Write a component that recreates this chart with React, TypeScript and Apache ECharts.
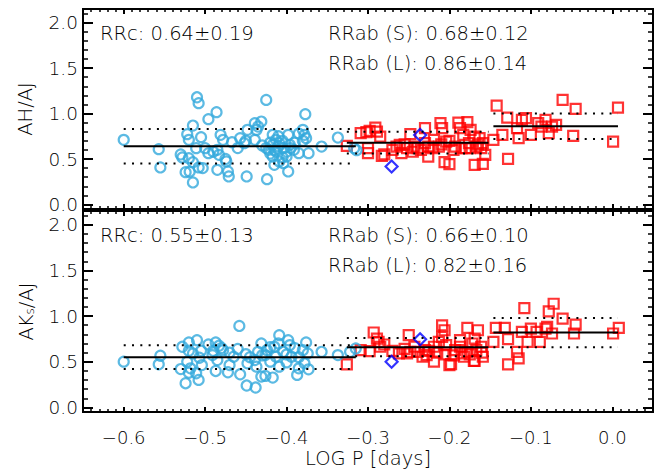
import React, { useEffect, useRef } from "react";
import * as echarts from "echarts";

// ---------- data ----------
const xMajorTicks = [-0.6, -0.5, -0.4, -0.3, -0.2, -0.1, 0.0];
const yMajorTicks = [0.0, 0.5, 1.0, 1.5, 2.0];

const groupNames = ["RRc", "RRab (S)", "RRab (L)"];
const groupSpans: [number, number][] = [
  [-0.6, -0.315],
  [-0.326, -0.152],
  [-0.146, 0.007],
];
const meanAH = [0.64, 0.68, 0.86];
const sigmaAH = [0.19, 0.12, 0.14];
const meanAKs = [0.55, 0.66, 0.82];
const sigmaAKs = [0.13, 0.1, 0.16];

const rrcAH: [number, number][] = [
  [-0.6, 0.711], [-0.557, 0.608], [-0.555, 0.407], [-0.51, 1.179], [-0.508, 1.114], [-0.486, 1.015],
  [-0.496, 0.938], [-0.515, 0.868], [-0.522, 0.773], [-0.52, 0.711], [-0.505, 0.74], [-0.511, 0.619],
  [-0.528, 0.517], [-0.52, 0.509], [-0.515, 0.465], [-0.524, 0.355], [-0.515, 0.242], [-0.508, 0.407],
  [-0.5, 0.619], [-0.496, 0.564], [-0.481, 0.766], [-0.478, 0.711], [-0.467, 0.685], [-0.483, 0.546],
  [-0.485, 0.601], [-0.474, 0.473], [-0.485, 0.381], [-0.472, 0.363], [-0.471, 0.308], [-0.457, 0.729],
  [-0.452, 0.674], [-0.448, 0.821], [-0.439, 0.894], [-0.431, 0.912], [-0.435, 0.857], [-0.425, 1.15],
  [-0.449, 0.308], [-0.424, 0.278], [-0.439, 0.711], [-0.417, 0.766], [-0.413, 0.711], [-0.417, 0.656],
  [-0.422, 0.601], [-0.413, 0.582], [-0.409, 0.674], [-0.404, 0.619], [-0.417, 0.527], [-0.409, 0.473],
  [-0.415, 0.436], [-0.4, 0.527], [-0.396, 0.656], [-0.398, 0.766], [-0.391, 0.601], [-0.385, 0.564],
  [-0.398, 0.363], [-0.38, 0.821], [-0.378, 0.766], [-0.376, 0.729], [-0.377, 0.993], [-0.373, 0.564],
  [-0.404, 0.454], [-0.357, 0.637], [-0.337, 0.736], [-0.317, 0.619], [-0.314, 0.597],
  [-0.425, 0.62], [-0.42, 0.68], [-0.415, 0.6], [-0.41, 0.64], [-0.405, 0.7], [-0.4, 0.58],
  [-0.395, 0.62], [-0.39, 0.68], [-0.42, 0.56], [-0.43, 0.65], [-0.41, 0.75], [-0.405, 0.52],
  [-0.385, 0.78], [-0.38, 0.7], [-0.45, 0.7], [-0.437, 0.82], [-0.475, 0.5], [-0.503, 0.4],
  [-0.519, 0.36], [-0.53, 0.55], [-0.49, 0.58], [-0.46, 0.62],
];

const rrabAH: [number, number][] = [
  [-0.326, 0.645], [-0.309, 0.784], [-0.302, 0.795], [-0.291, 0.846], [-0.289, 0.802], [-0.285, 0.747],
  [-0.3, 0.619], [-0.3, 0.564], [-0.283, 0.535], [-0.261, 0.656], [-0.259, 0.564], [-0.248, 0.773],
  [-0.23, 0.839], [-0.211, 0.894], [-0.209, 0.839], [-0.189, 0.901], [-0.178, 0.905], [-0.187, 0.839],
  [-0.174, 0.821], [-0.183, 0.766], [-0.169, 0.747], [-0.163, 0.729], [-0.159, 0.674], [-0.156, 0.546],
  [-0.169, 0.436], [-0.159, 0.447], [-0.206, 0.465], [-0.2, 0.443], [-0.226, 0.527], [-0.243, 0.637],
  [-0.239, 0.619], [-0.226, 0.637], [-0.213, 0.637], [-0.204, 0.692], [-0.193, 0.637], [-0.185, 0.619],
  [-0.167, 0.637], [-0.161, 0.619], [-0.252, 0.619], [-0.219, 0.711], [-0.146, 0.711], [-0.135, 0.766],
  [-0.128, 0.502], [-0.142, 1.088], [-0.129, 0.956], [-0.115, 0.729], [-0.117, 0.839], [-0.111, 0.93],
  [-0.106, 0.949], [-0.1, 0.766], [-0.091, 0.894], [-0.082, 0.93], [-0.078, 0.784], [-0.074, 0.857],
  [-0.061, 1.15], [-0.045, 1.051], [-0.048, 0.755], [0.007, 1.066], [0.001, 0.692], [-0.087, 0.857],
  [-0.069, 0.875], [-0.18, 0.619], [-0.176, 0.674], [-0.23, 0.674], [-0.265, 0.637],
  [-0.27, 0.6], [-0.255, 0.66], [-0.235, 0.6], [-0.22, 0.62], [-0.21, 0.66], [-0.195, 0.6],
  [-0.175, 0.62], [-0.165, 0.66], [-0.245, 0.58], [-0.2, 0.7], [-0.298, 0.81], [-0.28, 0.55],
];

const blazhkoAH: [number, number][] = [[-0.236, 0.765], [-0.271, 0.417]];

const rrcAKs: [number, number][] = [
  [-0.6, 0.501], [-0.555, 0.566], [-0.557, 0.472], [-0.528, 0.664], [-0.52, 0.711], [-0.51, 0.736],
  [-0.515, 0.591], [-0.522, 0.501], [-0.518, 0.428], [-0.524, 0.265], [-0.508, 0.301], [-0.511, 0.374],
  [-0.504, 0.464], [-0.507, 0.544], [-0.496, 0.689], [-0.487, 0.711], [-0.483, 0.675], [-0.478, 0.627],
  [-0.491, 0.573], [-0.485, 0.519], [-0.487, 0.399], [-0.472, 0.385], [-0.47, 0.464], [-0.465, 0.555],
  [-0.458, 0.892], [-0.457, 0.363], [-0.449, 0.24], [-0.438, 0.218], [-0.45, 0.584], [-0.448, 0.483],
  [-0.437, 0.446], [-0.431, 0.7], [-0.431, 0.338], [-0.417, 0.327], [-0.424, 0.627], [-0.415, 0.664],
  [-0.409, 0.791], [-0.398, 0.736], [-0.396, 0.682], [-0.404, 0.609], [-0.413, 0.555], [-0.42, 0.501],
  [-0.4, 0.493], [-0.409, 0.446], [-0.387, 0.356], [-0.385, 0.428], [-0.378, 0.483], [-0.376, 0.711],
  [-0.374, 0.591], [-0.38, 0.627], [-0.357, 0.609], [-0.337, 0.573], [-0.322, 0.609], [-0.315, 0.645],
  [-0.435, 0.609], [-0.426, 0.573], [-0.394, 0.555], [-0.439, 0.519],
  [-0.47, 0.6], [-0.46, 0.64], [-0.505, 0.62], [-0.52, 0.62], [-0.42, 0.66], [-0.41, 0.7],
  [-0.4, 0.58], [-0.39, 0.65], [-0.385, 0.55], [-0.43, 0.57], [-0.445, 0.55], [-0.53, 0.42],
  [-0.52, 0.38], [-0.426, 0.345], [-0.373, 0.417], [-0.48, 0.65], [-0.49, 0.62],
];

const rrabAKs: [number, number][] = [
  [-0.326, 0.472], [-0.309, 0.627], [-0.298, 0.617], [-0.293, 0.82], [-0.289, 0.754], [-0.287, 0.718],
  [-0.285, 0.664], [-0.28, 0.689], [-0.262, 0.591], [-0.25, 0.791], [-0.248, 0.609], [-0.243, 0.664],
  [-0.233, 0.555], [-0.228, 0.573], [-0.219, 0.501], [-0.209, 0.899], [-0.206, 0.845], [-0.209, 0.772],
  [-0.213, 0.718], [-0.204, 0.682], [-0.2, 0.464], [-0.182, 0.555], [-0.178, 0.87], [-0.165, 0.845],
  [-0.169, 0.754], [-0.172, 0.7], [-0.169, 0.508], [-0.159, 0.555], [-0.161, 0.664], [-0.146, 0.718],
  [-0.143, 0.87], [-0.132, 0.87], [-0.128, 0.747], [-0.128, 0.472], [-0.117, 0.609], [-0.115, 0.537],
  [-0.108, 1.088], [-0.111, 0.827], [-0.104, 0.718], [-0.1, 0.863], [-0.089, 0.718], [-0.093, 0.827],
  [-0.082, 0.863], [-0.08, 0.881], [-0.078, 1.051], [-0.072, 1.135], [-0.074, 0.809], [-0.061, 0.972],
  [-0.045, 0.906], [-0.047, 0.809], [0.001, 0.809], [0.008, 0.87], [-0.23, 0.627], [-0.219, 0.664],
  [-0.193, 0.627], [-0.187, 0.664], [-0.178, 0.609], [-0.187, 0.736], [-0.252, 0.591], [-0.239, 0.609],
  [-0.185, 0.591], [-0.167, 0.627],
  [-0.198, 0.475], [-0.17, 0.51], [-0.215, 0.6], [-0.205, 0.58], [-0.195, 0.57], [-0.175, 0.58],
  [-0.16, 0.6], [-0.225, 0.62], [-0.255, 0.64], [-0.27, 0.62],
];

const blazhkoAKs: [number, number][] = [[-0.236, 0.747], [-0.271, 0.5]];

// ---------- style ----------
const FONT = "DejaVu Sans";
const FONT_WEIGHT = 200;
const TEXT_COLOR = "#000";
const CYAN = "#33a9dc";
const RED = "#ff0000";
const BLUE = "#0000ff";
const X_MIN = -0.65;
const X_MAX = 0.05;
const Y_MIN = -0.05;
const Y_MAX = 2.15;
const GRID_LEFT = 83;
const GRID_WIDTH = 570;
const PANELS = [
  { top: 9, height: 200 },
  { top: 211, height: 201 },
];

const xMinorTicks: number[] = [];
for (let i = -64; i <= 4; i++) xMinorTicks.push(i / 100);
const yMinorTicks: number[] = [];
for (let i = 0; i <= 21; i++) yMinorTicks.push(i / 10);

const fmtX = (v: number) => v.toFixed(1).replace("-", "\u2212").replace("\u22120.0", "0.0");
const fmtY = (v: number) => v.toFixed(1);

function xAxisCfg(gridIndex: number, position: string, ticks: number[], len: number, w: number, labels: boolean) {
  return {
    type: "value",
    gridIndex,
    position,
    min: X_MIN,
    max: X_MAX,
    axisLine: { show: true, onZero: false, lineStyle: { color: "#000", width: 2 } },
    axisTick: { show: true, inside: true, length: len, customValues: ticks, lineStyle: { color: "#000", width: w } },
    axisLabel: labels
      ? { show: true, customValues: xMajorTicks, formatter: fmtX, margin: 16, fontSize: 18, fontWeight: FONT_WEIGHT, color: TEXT_COLOR, fontFamily: FONT }
      : { show: false },
    splitLine: { show: false },
  };
}

function yAxisCfg(gridIndex: number, position: string, ticks: number[], len: number, w: number, labels: boolean) {
  return {
    type: "value",
    gridIndex,
    position,
    min: Y_MIN,
    max: Y_MAX,
    axisLine: { show: true, onZero: false, lineStyle: { color: "#000", width: 2 } },
    axisTick: { show: true, inside: true, length: len, customValues: ticks, lineStyle: { color: "#000", width: w } },
    axisLabel: labels
      ? { show: true, customValues: yMajorTicks, formatter: fmtY, margin: 5, fontSize: 18.5, fontWeight: FONT_WEIGHT, color: TEXT_COLOR, fontFamily: FONT }
      : { show: false },
    splitLine: { show: false },
  };
}

function scatter(data: [number, number][], gi: number, symbol: string, size: number, color: string, z: number) {
  return {
    type: "scatter",
    xAxisIndex: gi * 4,
    yAxisIndex: gi * 4,
    data,
    symbol,
    symbolSize: size,
    itemStyle: { color: "rgba(0,0,0,0)", borderColor: color, borderWidth: 2.2 },
    z,
    silent: true,
  };
}

function meanLines(gi: number, means: number[], sigmas: number[]) {
  const out: any[] = [];
  means.forEach((m, g) => {
    const [x0, x1] = groupSpans[g];
    const levels = [
      { v: m, dotted: false },
      { v: m + sigmas[g], dotted: true },
      { v: m - sigmas[g], dotted: true },
    ];
    levels.forEach((lv) => {
      out.push({
        type: "line",
        xAxisIndex: gi * 4,
        yAxisIndex: gi * 4,
        data: [
          [x0, lv.v],
          [x1, lv.v],
        ],
        symbol: "none",
        silent: true,
        z: 5,
        lineStyle: { color: "#000", width: 2, type: lv.dotted ? [2, 6.3] : "solid", cap: "butt" },
      });
    });
  });
  return out;
}

function annotations(gi: number, means: number[], sigmas: number[]) {
  const top = PANELS[gi].top;
  const pos = [
    [100, top + 24],
    [328, top + 24],
    [328, top + 54],
  ];
  return groupNames.map((name, g) => ({
    type: "text",
    x: pos[g][0],
    y: pos[g][1],
    silent: true,
    style: {
      text: `${name}: ${means[g].toFixed(2)}\u00b1${sigmas[g].toFixed(2)}`,
      fontFamily: FONT,
      fontWeight: FONT_WEIGHT,
      fontSize: 19.5,
      fill: TEXT_COLOR,
      align: "left",
      verticalAlign: "middle",
    },
  }));
}

export default function App() {
  const ref = useRef<HTMLDivElement>(null);
  useEffect(() => {
    if (!ref.current) return;
    const chart = echarts.init(ref.current, undefined, { renderer: "svg" });
    const xAxes: any[] = [];
    const yAxes: any[] = [];
    PANELS.forEach((_, gi) => {
      xAxes.push(xAxisCfg(gi, "bottom", xMajorTicks, 5, 2, gi === 1));
      xAxes.push(xAxisCfg(gi, "bottom", xMinorTicks, 3, 1.5, false));
      xAxes.push(xAxisCfg(gi, "top", xMajorTicks, 5, 2, false));
      xAxes.push(xAxisCfg(gi, "top", xMinorTicks, 3, 1.5, false));
      yAxes.push(yAxisCfg(gi, "left", yMajorTicks, 10, 2, true));
      yAxes.push(yAxisCfg(gi, "left", yMinorTicks, 5, 1.5, false));
      yAxes.push(yAxisCfg(gi, "right", yMajorTicks, 10, 2, false));
      yAxes.push(yAxisCfg(gi, "right", yMinorTicks, 5, 1.5, false));
    });

    const option: any = {
      animation: false,
      backgroundColor: "#ffffff",
      grid: PANELS.map((p) => ({ left: GRID_LEFT, width: GRID_WIDTH, top: p.top, height: p.height, containLabel: false })),
      xAxis: xAxes,
      yAxis: yAxes,
      series: [
        scatter(rrabAH, 0, "rect", 10, RED, 2),
        scatter(rrcAH, 0, "circle", 10, CYAN, 3),
        scatter(blazhkoAH, 0, "diamond", 12, BLUE, 4),
        ...meanLines(0, meanAH, sigmaAH),
        scatter(rrabAKs, 1, "rect", 10, RED, 2),
        scatter(rrcAKs, 1, "circle", 10, CYAN, 3),
        scatter(blazhkoAKs, 1, "diamond", 12, BLUE, 4),
        ...meanLines(1, meanAKs, sigmaAKs),
      ],
      graphic: [
        ...annotations(0, meanAH, sigmaAH),
        ...annotations(1, meanAKs, sigmaAKs),
        {
          type: "text",
          x: 25,
          y: PANELS[0].top + PANELS[0].height / 2,
          rotation: Math.PI / 2,
          silent: true,
          style: { text: "AH/AJ", fontFamily: FONT, fontWeight: FONT_WEIGHT, fontSize: 19.5, fill: TEXT_COLOR, align: "center", verticalAlign: "middle" },
        },
        {
          type: "text",
          x: 25,
          y: PANELS[1].top + PANELS[1].height / 2,
          rotation: Math.PI / 2,
          silent: true,
          style: {
            text: "{a|AK}{s|s}{a|/AJ}",
            align: "center",
            verticalAlign: "middle",
            rich: {
              a: { fontFamily: FONT, fontWeight: FONT_WEIGHT, fontSize: 19.5, fill: TEXT_COLOR, color: TEXT_COLOR, verticalAlign: "bottom", lineHeight: 22 },
              s: { fontFamily: FONT, fontWeight: FONT_WEIGHT, fontSize: 12, fill: TEXT_COLOR, color: TEXT_COLOR, verticalAlign: "bottom", lineHeight: 16 },
            },
          },
        },
        {
          type: "text",
          x: GRID_LEFT + GRID_WIDTH / 2,
          y: 458,
          silent: true,
          style: { text: "LOG P [days]", fontFamily: FONT, fontWeight: FONT_WEIGHT, fontSize: 19.5, fill: TEXT_COLOR, align: "center", verticalAlign: "middle" },
        },
      ],
    };
    chart.setOption(option);
    return () => chart.dispose();
  }, []);

  return (
    <div
      ref={ref}
      style={{ position: "fixed", left: 0, top: 0, width: 668, height: 472, background: "#fff" }}
    />
  );
}
